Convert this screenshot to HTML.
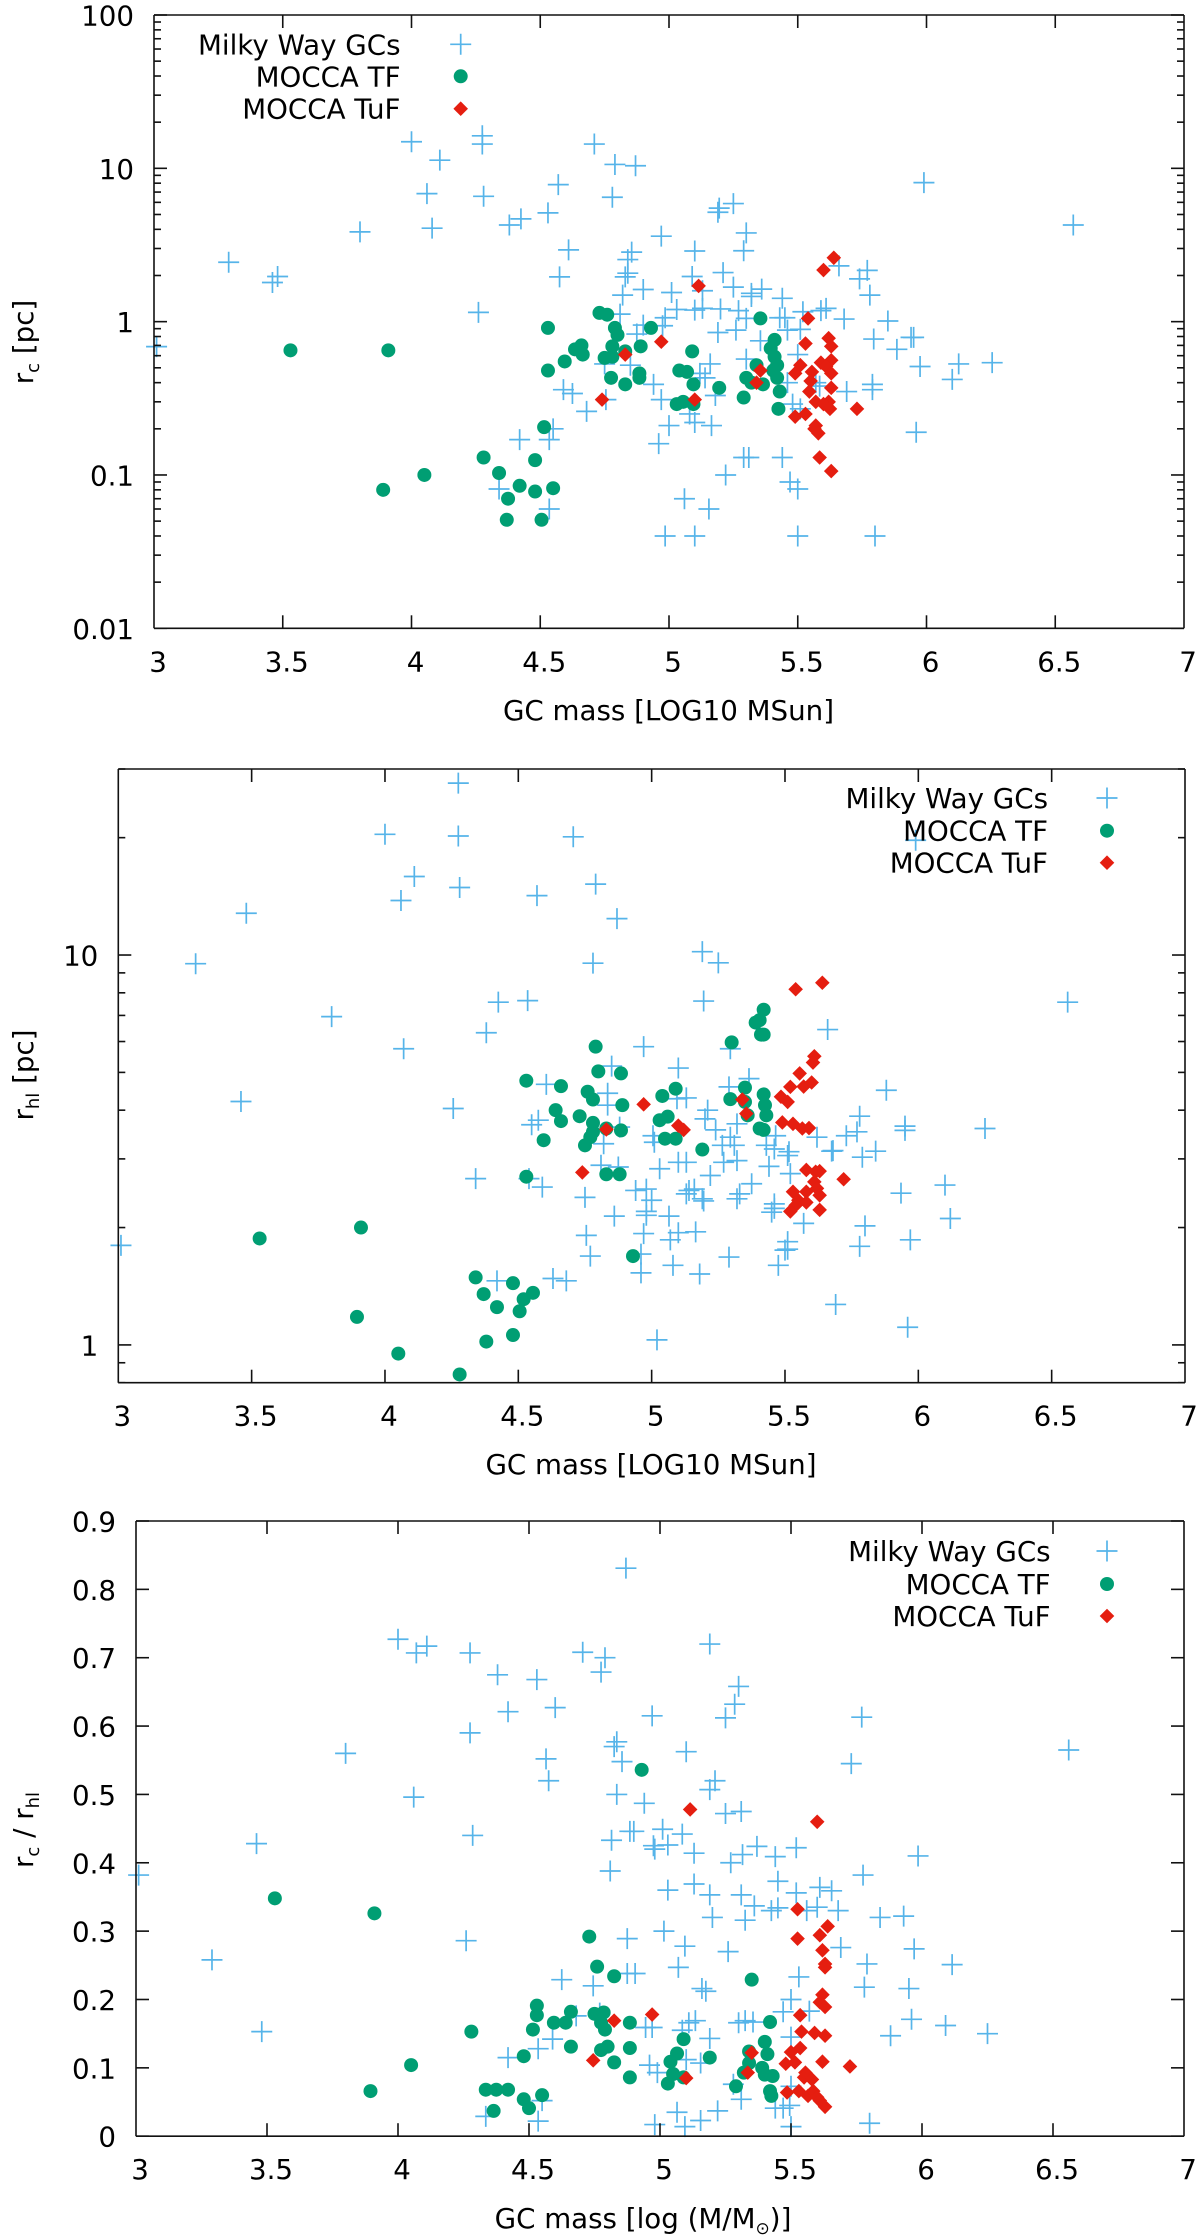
<!DOCTYPE html>
<html lang="en">
<head>
<meta charset="utf-8">
<title>Globular cluster radii versus mass</title>
<style>
html,body{margin:0;padding:0;background:#fff;}
svg{display:block;}
text{font-family:"DejaVu Sans","Liberation Sans",sans-serif;font-size:27.7px;fill:#000;}
</style>
</head>
<body>
<svg id="figure" xmlns="http://www.w3.org/2000/svg" width="1200" height="2239" viewBox="0 0 1200 2239">
  <g id="panel-1"></g>
  <g id="panel-2"></g>
  <g id="panel-3"></g>

  <text x="668.5" y="720" text-anchor="middle">GC mass [LOG10 MSun]</text>
  <text x="651" y="1474" text-anchor="middle">GC mass [LOG10 MSun]</text>
  <text x="643" y="2228" text-anchor="middle">GC mass [log (M/M<tspan font-size="17" dy="6">⊙</tspan><tspan dy="-6">)]</tspan></text>

  <text transform="translate(33,342) rotate(-90)" text-anchor="middle">r<tspan font-size="18" dy="6">c</tspan><tspan dy="-6"> [pc]</tspan></text>
  <text transform="translate(33,1075) rotate(-90)" text-anchor="middle">r<tspan font-size="18" dy="6">hl</tspan><tspan dy="-6"> [pc]</tspan></text>
  <text transform="translate(33,1830) rotate(-90)" text-anchor="middle">r<tspan font-size="18" dy="6">c</tspan><tspan dy="-6"> / r</tspan><tspan font-size="18" dy="6">hl</tspan></text>
</svg>
<script>
const massTicks = [3, 3.5, 4, 4.5, 5, 5.5, 6, 6.5, 7];
const massTickLabels = ['3', '3.5', '4', '4.5', '5', '5.5', '6', '6.5', '7'];
const coreRadiusTicks = [0.01, 0.1, 1, 10, 100];
const coreRadiusTickLabels = ['0.01', '0.1', '1', '10', '100'];
const halfLightTicks = [1, 10];
const halfLightTickLabels = ['1', '10'];
const ratioTicks = [0, 0.1, 0.2, 0.3, 0.4, 0.5, 0.6, 0.7, 0.8, 0.9];
const ratioTickLabels = ['0', '0.1', '0.2', '0.3', '0.4', '0.5', '0.6', '0.7', '0.8', '0.9'];
const seriesNames = ['Milky Way GCs', 'MOCCA TF', 'MOCCA TuF'];

// [log10 mass, core radius in pc]
const coreMilkyWay = [[3.01,.687],[3.29,2.44],[3.48,1.97],[3.46,1.80],[3.80,3.85],[4.00,14.9],[4.11,11.3],[4.06,6.84],[4.08,4.07],[4.26,1.15],[4.275,16.3],[4.275,14.4],[4.28,6.57],[4.71,14.4],[4.79,10.6],[4.87,10.4],[4.57,7.83],[4.78,6.48],[4.425,4.68],[4.38,4.27],[4.53,5.12],[5.25,5.89],[5.195,5.5],[5.19,5.17],[4.97,3.61],[5.30,3.79],[4.61,2.94],[5.10,2.89],[5.29,2.90],[4.855,2.84],[4.84,2.54],[5.21,2.09],[4.84,2.07],[4.83,1.96],[5.09,1.97],[4.575,1.96],[4.90,1.62],[5.25,1.68],[5.01,1.55],[4.82,1.49],[5.13,1.59],[5.36,1.63],[5.32,1.53],[5.32,1.46],[5.44,1.42],[5.61,1.22],[5.59,1.18],[5.52,1.16],[4.81,1.12],[5.03,1.20],[5.10,1.19],[5.13,1.22],[5.20,1.21],[5.27,1.18],[4.985,1.06],[5.30,1.05],[5.43,1.06],[5.45,1.06],[4.90,.95],[4.975,.94],[4.875,.83],[5.19,.85],[5.26,.88],[5.46,.88],[5.51,.89],[5.355,.75],[5.50,.61],[5.30,.57],[5.16,.53],[4.75,.53],[4.85,.52],[5.14,.43],[5.12,.46],[4.94,.39],[4.59,.36],[4.625,.34],[4.755,.31],[4.97,.31],[5.18,.33],[4.68,.26],[5.46,.40],[5.96,.19],[4.985,.04],[5.10,.04],[5.50,.04],[5.80,.04],[5.155,.06],[5.06,.07],[5.47,.09],[5.50,.081],[5.22,.10],[5.29,.13],[5.31,.13],[5.44,.13],[4.96,.16],[5.00,.21],[5.165,.21],[5.10,.22],[5.08,.25],[4.55,.20],[4.535,.17],[4.42,.17],[4.34,.081],[4.535,.06],[5.48,.29],[5.51,.27],[5.69,.35],[5.79,.36],[5.99,8.07],[6.57,4.27],[5.66,2.31],[5.77,2.16],[5.74,1.90],[5.78,1.49],[5.68,1.04],[5.85,1.01],[5.795,.77],[5.95,.79],[5.94,.79],[5.885,.66],[5.975,.51],[6.125,.53],[6.255,.54],[6.10,.42],[5.79,.39],[5.585,.38],[5.57,.40]];
const coreTF = [[3.53,.65],[3.91,.65],[4.05,.10],[3.89,.08],[4.53,.91],[4.73,1.14],[4.76,1.11],[4.93,.91],[4.79,.91],[4.80,.82],[4.89,.69],[4.78,.69],[4.66,.70],[4.635,.66],[4.665,.61],[4.75,.58],[4.78,.59],[4.83,.64],[4.595,.55],[4.53,.48],[4.775,.43],[4.885,.46],[4.885,.43],[4.83,.39],[5.09,.64],[5.04,.48],[5.07,.47],[5.095,.39],[5.03,.29],[5.055,.30],[5.095,.29],[5.195,.37],[5.29,.32],[5.355,1.05],[5.41,.76],[5.395,.67],[5.41,.59],[5.42,.52],[5.405,.48],[5.42,.43],[5.34,.52],[5.30,.43],[5.32,.40],[5.365,.39],[5.43,.35],[5.425,.27],[4.515,.205],[4.28,.13],[4.48,.125],[4.34,.103],[4.42,.085],[4.48,.078],[4.55,.082],[4.375,.07],[4.37,.051],[4.505,.051]];
const coreTuF = [[5.115,1.71],[4.97,.74],[4.83,.61],[4.74,.31],[5.10,.31],[5.355,.48],[5.34,.40],[5.64,2.61],[5.60,2.17],[5.54,1.05],[5.53,.72],[5.62,.78],[5.63,.69],[5.63,.56],[5.59,.54],[5.51,.52],[5.49,.46],[5.555,.47],[5.61,.51],[5.63,.46],[5.55,.41],[5.545,.35],[5.63,.37],[5.57,.30],[5.62,.30],[5.60,.29],[5.625,.27],[5.49,.24],[5.53,.25],[5.73,.27],[5.57,.21],[5.565,.20],[5.58,.187],[5.585,.13],[5.63,.106]];

// [log10 mass, half-light radius in pc]
const halfLightMilkyWay = [[4.0,20.4],[4.275,27.6],[4.275,20.2],[4.28,14.9],[4.11,15.9],[4.06,13.8],[3.48,12.8],[3.29,9.5],[3.46,4.21],[4.256,4.04],[3.01,1.80],[3.80,6.95],[4.07,5.75],[4.706,20.1],[4.57,14.2],[4.79,15.2],[4.87,12.4],[5.19,10.2],[5.25,9.55],[4.78,9.53],[5.195,7.62],[4.425,7.57],[4.535,7.64],[6.56,7.57],[4.38,6.32],[5.66,6.44],[4.97,5.82],[5.295,5.75],[4.85,5.19],[5.10,5.13],[5.88,4.5],[4.605,4.66],[5.29,4.59],[5.365,4.82],[4.835,4.42],[5.13,4.3],[5.095,4.28],[5.99,19.7],[4.835,4.12],[5.21,4.0],[5.78,3.86],[5.20,3.8],[4.575,3.77],[4.55,3.67],[5.32,3.69],[5.95,3.64],[6.25,3.59],[5.77,3.52],[5.73,3.44],[5.24,3.56],[5.005,3.44],[5.295,3.41],[5.465,3.44],[5.62,3.41],[4.88,3.62],[4.34,2.67],[4.54,2.67],[4.59,2.54],[4.81,2.89],[4.875,2.86],[5.03,2.83],[5.10,2.94],[5.13,2.94],[5.27,2.94],[5.32,2.97],[5.44,2.87],[5.52,2.75],[5.22,2.72],[5.375,2.59],[4.75,2.39],[4.94,2.49],[4.98,2.51],[5.0,2.35],[5.14,2.49],[5.16,2.51],[5.13,2.44],[5.19,2.37],[5.195,2.34],[5.32,2.37],[5.33,2.44],[5.46,2.30],[5.46,2.24],[5.45,2.19],[4.98,2.20],[4.98,2.15],[4.86,2.14],[5.065,2.14],[5.57,2.05],[4.755,1.91],[4.97,1.93],[5.10,1.94],[5.165,1.95],[5.07,1.86],[5.51,1.84],[5.51,1.76],[5.50,1.75],[4.77,1.69],[4.96,1.71],[5.29,1.68],[5.08,1.60],[5.475,1.60],[4.96,1.53],[5.18,1.52],[4.42,1.46],[4.63,1.48],[4.68,1.46],[5.02,1.03],[5.69,1.27],[4.82,3.28],[5.01,3.31],[5.265,3.25],[5.31,3.25],[5.43,3.25],[5.46,3.18],[5.515,3.13],[5.51,3.06],[5.68,3.15],[5.95,3.55],[5.675,3.14],[5.79,3.03],[5.84,3.14],[5.935,2.45],[6.10,2.57],[6.12,2.11],[5.80,2.02],[5.97,1.86],[5.78,1.79],[5.96,1.11]];
const halfLightTF = [[3.53,1.875],[3.91,2.0],[3.895,1.18],[4.05,.95],[4.53,4.76],[4.66,4.61],[4.79,5.82],[4.80,5.03],[4.885,4.97],[4.76,4.46],[4.78,4.26],[4.89,4.12],[4.64,4.0],[4.66,3.75],[4.73,3.86],[4.78,3.71],[4.885,3.55],[4.83,3.59],[5.04,4.35],[5.09,4.54],[5.06,3.85],[5.03,3.77],[5.30,5.97],[5.42,7.24],[5.405,6.81],[5.39,6.71],[5.42,6.25],[5.41,6.25],[5.35,4.57],[5.295,4.27],[5.35,4.2],[5.36,3.88],[5.42,4.39],[5.425,4.12],[5.43,3.88],[5.405,3.59],[5.42,3.56],[4.78,3.52],[4.77,3.41],[4.595,3.35],[5.05,3.38],[5.09,3.38],[4.75,3.25],[5.19,3.17],[4.53,2.70],[4.83,2.74],[4.88,2.74],[4.93,1.69],[4.34,1.49],[4.48,1.44],[4.555,1.36],[4.52,1.31],[4.37,1.35],[4.42,1.25],[4.505,1.22],[4.48,1.06],[4.38,1.02],[4.28,.84]];
const halfLightTuF = [[5.54,8.17],[5.64,8.49],[5.61,5.5],[5.605,5.3],[5.555,4.97],[5.52,4.59],[5.57,4.6],[5.60,4.71],[5.485,4.33],[5.51,4.2],[5.34,4.26],[5.355,3.92],[4.97,4.14],[5.10,3.65],[5.12,3.56],[4.83,3.57],[5.49,3.72],[5.53,3.69],[5.565,3.59],[5.59,3.6],[4.74,2.77],[5.58,2.81],[5.615,2.78],[5.63,2.79],[5.61,2.62],[5.62,2.52],[5.63,2.42],[5.53,2.47],[5.58,2.47],[5.55,2.35],[5.58,2.32],[5.54,2.28],[5.52,2.2],[5.63,2.22],[5.72,2.66]];

// [log10 mass, core radius / half-light radius]
const ratioMilkyWay = [[4.87,.831],[4.0,.727],[4.07,.707],[4.11,.717],[4.275,.707],[4.38,.675],[4.53,.668],[4.42,.621],[4.60,.627],[4.275,.59],[3.80,.56],[4.565,.552],[4.575,.52],[4.835,.577],[4.825,.57],[4.855,.548],[4.835,.50],[4.06,.496],[4.285,.44],[3.46,.428],[4.815,.433],[4.81,.388],[4.90,.446],[3.01,.382],[4.705,.708],[4.79,.70],[4.775,.679],[4.26,.286],[4.875,.289],[3.29,.258],[4.625,.229],[4.745,.22],[4.875,.238],[4.905,.238],[3.48,.153],[4.68,.176],[4.77,.18],[4.59,.142],[4.535,.128],[4.42,.115],[4.55,.052],[4.535,.022],[4.335,.029],[5.19,.72],[5.30,.658],[5.285,.632],[5.25,.612],[4.97,.615],[5.77,.613],[5.10,.5625],[6.56,.565],[5.73,.545],[5.21,.52],[5.19,.507],[4.94,.487],[5.25,.472],[5.31,.475],[5.01,.449],[4.885,.446],[5.085,.442],[4.975,.425],[4.98,.42],[5.03,.426],[5.13,.414],[5.315,.412],[5.37,.424],[5.44,.409],[5.52,.422],[5.27,.40],[5.985,.41],[5.775,.382],[5.45,.373],[5.13,.369],[5.03,.36],[5.19,.353],[5.31,.353],[5.52,.356],[5.61,.364],[5.655,.359],[5.36,.337],[5.425,.33],[5.45,.334],[5.56,.33],[5.60,.335],[5.68,.33],[5.20,.32],[5.325,.316],[5.84,.32],[5.93,.322],[5.015,.30],[5.095,.278],[5.26,.27],[5.69,.276],[5.97,.274],[5.07,.247],[5.79,.252],[6.115,.251],[5.53,.233],[5.78,.218],[5.95,.216],[5.16,.216],[5.175,.212],[5.50,.20],[5.47,.182],[5.57,.183],[5.135,.169],[5.11,.166],[5.30,.166],[5.325,.169],[5.355,.167],[4.945,.159],[4.97,.159],[5.96,.171],[6.09,.162],[6.25,.15],[5.88,.147],[5.50,.145],[5.19,.143],[5.085,.155],[5.10,.112],[5.155,.107],[4.96,.104],[4.99,.093],[5.50,.073],[5.28,.076],[5.31,.054],[5.44,.041],[5.47,.041],[5.495,.045],[5.22,.037],[5.065,.035],[5.155,.023],[4.98,.017],[5.095,.014],[5.80,.019],[5.50,.014]];
const ratioTF = [[3.53,.348],[3.91,.326],[4.73,.292],[4.76,.248],[4.825,.234],[4.53,.191],[4.53,.177],[4.66,.182],[4.75,.179],[4.785,.181],[4.595,.166],[4.64,.166],[4.28,.153],[4.515,.156],[4.775,.166],[4.79,.156],[4.885,.166],[4.80,.131],[4.66,.131],[4.775,.126],[4.885,.129],[4.48,.117],[4.05,.104],[4.825,.108],[4.885,.086],[3.895,.066],[4.335,.068],[4.375,.068],[4.42,.068],[4.48,.054],[4.55,.06],[4.50,.041],[4.365,.037],[4.93,.536],[5.35,.229],[5.42,.167],[5.09,.142],[5.065,.121],[5.04,.109],[5.19,.115],[5.40,.138],[5.41,.12],[5.34,.124],[5.34,.107],[5.39,.10],[5.05,.091],[5.03,.077],[5.09,.086],[5.32,.093],[5.40,.09],[5.43,.088],[5.29,.073],[5.42,.066],[5.425,.059]];
const ratioTuF = [[4.825,.169],[4.745,.111],[5.115,.478],[5.60,.46],[5.525,.332],[5.64,.307],[5.61,.294],[5.525,.289],[5.62,.272],[5.63,.252],[5.63,.247],[5.62,.207],[5.61,.196],[5.63,.189],[5.535,.177],[4.97,.178],[5.54,.153],[5.59,.151],[5.63,.147],[5.535,.129],[5.50,.123],[5.35,.122],[5.48,.106],[5.515,.108],[5.62,.109],[5.725,.102],[5.10,.085],[5.335,.093],[5.555,.093],[5.55,.086],[5.58,.083],[5.485,.064],[5.53,.066],[5.565,.059],[5.585,.066],[5.60,.057],[5.61,.052],[5.63,.043]];

const NS = 'http://www.w3.org/2000/svg';
const BLUE = '#56b4e9';
const GREEN = '#009e73';
const RED = '#e51e10';

function el(parent, tag, attrs) {
  const node = document.createElementNS(NS, tag);
  for (const key in attrs) node.setAttribute(key, attrs[key]);
  parent.appendChild(node);
  return node;
}

function axisLine(parent, x1, y1, x2, y2, name) {
  const line = el(parent, 'line', {x1: x1, y1: y1, x2: x2, y2: y2, stroke: '#111', 'stroke-width': 1.6});
  
  
}

function tickText(parent, x, y, anchor, label, name) {
  const t = el(parent, 'text', {x: x, y: y, 'text-anchor': anchor});
  t.textContent = label;
  
  
}

function crossMark(parent, cx, cy, name) {
  const g = el(parent, 'path', {
    d: 'M' + (cx - 10.5) + ' ' + cy + 'H' + (cx + 10.5) + 'M' + cx + ' ' + (cy - 10.5) + 'V' + (cy + 10.5),
    stroke: BLUE, 'stroke-width': 1.7, fill: 'none'
  });
  
  
}

function dotMark(parent, cx, cy, name) {
  const c = el(parent, 'circle', {cx: cx, cy: cy, r: 7, fill: GREEN});
  
  
}

function diamondMark(parent, cx, cy, name) {
  const d = el(parent, 'path', {
    d: 'M' + cx + ' ' + (cy - 7.3) + 'L' + (cx + 7.3) + ' ' + cy + 'L' + cx + ' ' + (cy + 7.3) + 'L' + (cx - 7.3) + ' ' + cy + 'Z',
    fill: RED
  });
  
  
}

function drawPanel(cfg) {
  const g = document.getElementById(cfg.id);
  const xScale = v => cfg.left + (v - 3) / 4 * (cfg.right - cfg.left);
  const yScale = cfg.log
    ? v => cfg.bottom - (Math.log10(v) - Math.log10(cfg.yMin)) / (Math.log10(cfg.yMax) - Math.log10(cfg.yMin)) * (cfg.bottom - cfg.top)
    : v => cfg.bottom - (v - cfg.yMin) / (cfg.yMax - cfg.yMin) * (cfg.bottom - cfg.top);

  // Series first; the frame is stroked over the points as in the source figure.
  cfg.blue.forEach(p => crossMark(g, xScale(p[0]), yScale(p[1]), 'milky-way-gc-point'));
  cfg.green.forEach(p => dotMark(g, xScale(p[0]), yScale(p[1]), 'mocca-tf-point'));
  cfg.red.forEach(p => diamondMark(g, xScale(p[0]), yScale(p[1]), 'mocca-tuf-point'));

  // Frame
  axisLine(g, cfg.left, cfg.top, cfg.right, cfg.top, 'top-border');
  axisLine(g, cfg.left, cfg.bottom, cfg.right, cfg.bottom, 'x-axis');
  axisLine(g, cfg.left, cfg.top, cfg.left, cfg.bottom, 'y-axis');
  axisLine(g, cfg.right, cfg.top, cfg.right, cfg.bottom, 'right-border');

  // X ticks
  massTicks.forEach((v, i) => {
    const x = xScale(v);
    if (i > 0 && i < massTicks.length - 1) {
      axisLine(g, x, cfg.bottom, x, cfg.bottom - 13, 'x-tick');
      axisLine(g, x, cfg.top, x, cfg.top + 13, 'x-tick-top');
    }
    tickText(g, x + 4, cfg.bottom + 43, 'middle', massTickLabels[i], 'x-tick-label');
  });

  // Y ticks
  cfg.yTicks.forEach((v, i) => {
    const y = yScale(v);
    axisLine(g, cfg.left, y, cfg.left + 13, y, 'y-tick');
    axisLine(g, cfg.right, y, cfg.right - 13, y, 'y-tick-right');
    tickText(g, cfg.left - 20, y + 10.5, 'end', cfg.yLabels[i], 'y-tick-label');
  });

  // Log minor ticks
  if (cfg.log) {
    const lo = Math.floor(Math.log10(cfg.yMin));
    const hi = Math.ceil(Math.log10(cfg.yMax));
    for (let d = lo; d < hi; d++) {
      for (let m = 2; m <= 9; m++) {
        const v = m * Math.pow(10, d);
        if (v < cfg.yMin || v > cfg.yMax) continue;
        const y = yScale(v);
        axisLine(g, cfg.left, y, cfg.left + 7, y, 'y-minor-tick');
        axisLine(g, cfg.right, y, cfg.right - 7, y, 'y-minor-tick-right');
      }
    }
  }

  // Legend
  const rows = cfg.legendRows;
  seriesNames.forEach((name, i) => {
    const t = el(g, 'text', {x: cfg.legendTextX, y: rows[i] + 10, 'text-anchor': 'end'});
    t.textContent = name;
    
    
  });
  crossMark(g, cfg.legendMarkX, rows[0], 'legend-milky-way-marker');
  dotMark(g, cfg.legendMarkX, rows[1], 'legend-mocca-tf-marker');
  diamondMark(g, cfg.legendMarkX, rows[2], 'legend-mocca-tuf-marker');
}

drawPanel({
  id: 'panel-1', left: 154, right: 1184, top: 15, bottom: 628.3,
  log: true, yMin: 0.01, yMax: 100,
  yTicks: coreRadiusTicks, yLabels: coreRadiusTickLabels,
  blue: coreMilkyWay, green: coreTF, red: coreTuF,
  legendTextX: 400.5, legendMarkX: 460.7, legendRows: [44.3, 76.3, 108.7]
});
drawPanel({
  id: 'panel-2', left: 118.3, right: 1185, top: 769, bottom: 1382.7,
  log: true, yMin: 0.8, yMax: 30,
  yTicks: halfLightTicks, yLabels: halfLightTickLabels,
  blue: halfLightMilkyWay, green: halfLightTF, red: halfLightTuF,
  legendTextX: 1048, legendMarkX: 1107, legendRows: [798, 830.7, 862.7]
});
drawPanel({
  id: 'panel-3', left: 136, right: 1184, top: 1521, bottom: 2136.2,
  log: false, yMin: 0, yMax: 0.9,
  yTicks: ratioTicks, yLabels: ratioTickLabels,
  blue: ratioMilkyWay, green: ratioTF, red: ratioTuF,
  legendTextX: 1050.6, legendMarkX: 1107, legendRows: [1551, 1584, 1616]
});
</script>
</body>
</html>
